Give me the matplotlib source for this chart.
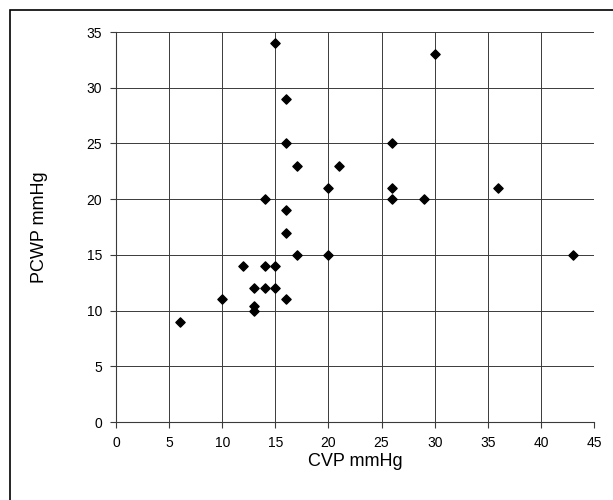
import matplotlib
matplotlib.use("Agg")
from matplotlib import pyplot as plt
from matplotlib.patches import Rectangle

# datos
cvp = [15, 30, 16, 16, 26, 17, 21, 20, 26, 36, 14, 26, 29, 16, 16,
       17, 20, 43, 12, 14, 15, 13, 14, 15, 10, 16, 13, 13, 6]
pcwp = [34, 33, 29, 25, 25, 23, 23, 21, 21, 21, 20, 20, 20, 19, 17,
        15, 15, 15, 14, 14, 14, 12, 12, 12, 11, 11, 10.4, 10, 9]
x_ticks = [0, 5, 10, 15, 20, 25, 30, 35, 40, 45]
y_ticks = [0, 5, 10, 15, 20, 25, 30, 35]

plt.rcParams["font.family"] = ["Liberation Sans", "DejaVu Sans"]

fig = plt.figure(figsize=(6.13, 5.0), dpi=100)
ax = fig.add_axes([116 / 613, 1 - 422 / 500, (594 - 116) / 613, (422 - 32) / 500])

# marco exterior estilo Excel
fig.patches.append(Rectangle((10 / 613, -0.01), 1.1, 1 - 10 / 500 + 0.01,
                             transform=fig.transFigure, fill=False,
                             edgecolor="black", linewidth=1.2))

ax.scatter(cvp, pcwp, marker="D", s=22, color="black", zorder=3)

ax.set_xlim(0, 45)
ax.set_ylim(0, 35)
ax.set_xticks(x_ticks)
ax.set_yticks(y_ticks)
ax.grid(True, color="#3a3a3a", linewidth=0.7)
ax.set_axisbelow(True)

for side in ["top", "right"]:
    ax.spines[side].set_visible(False)
for side in ["left", "bottom"]:
    ax.spines[side].set_color("#3a3a3a")
    ax.spines[side].set_linewidth(0.8)

ax.tick_params(direction="out", length=4, width=0.8, color="#3a3a3a",
               labelsize=10, pad=6)
ax.set_xlabel("CVP mmHg", fontsize=13, labelpad=2)
ax.set_ylabel("PCWP mmHg", fontsize=13, labelpad=28)

plt.savefig("out.png", dpi=100)
plt.close()
